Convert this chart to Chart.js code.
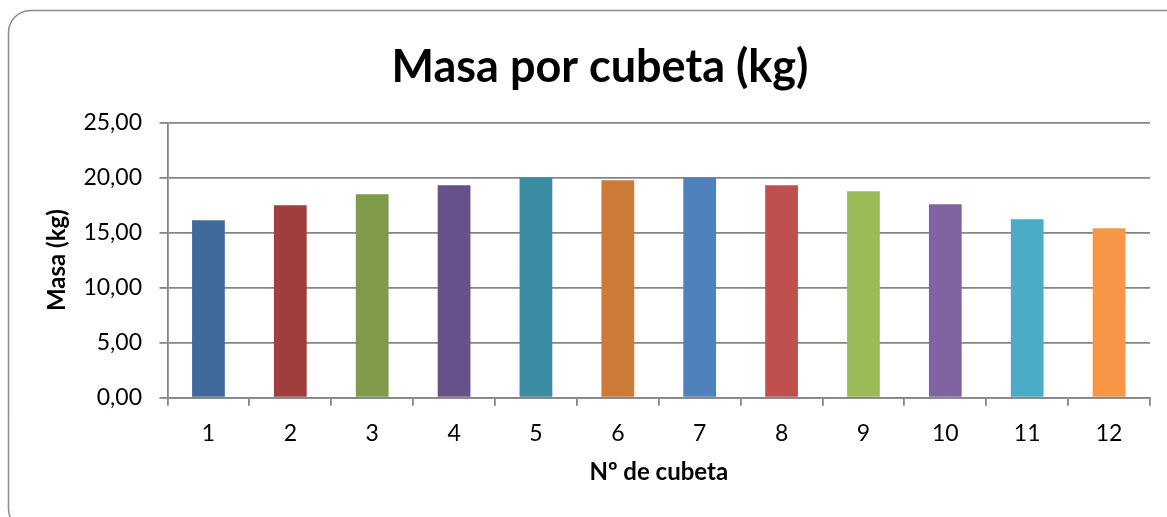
<!DOCTYPE html>
<html>
<head>
<meta charset="utf-8">
<script src="https://cdn.jsdelivr.net/npm/chart.js@4/dist/chart.umd.min.js"></script>
<style>
html,body{margin:0;padding:0;background:#fff;}
canvas{display:block;}
</style>
</head>
<body>
<canvas id="c" width="1167" height="517"></canvas>
<script>
const categories = ['1','2','3','4','5','6','7','8','9','10','11','12'];
const masses = [16.12, 17.49, 18.48, 19.30, 20.04, 19.75, 19.98, 19.30, 18.76, 17.58, 16.22, 15.40];
const barColors = ['#3F6A9C','#9E3F3E','#7F9A48','#68508A','#3C8CA4','#CC7A37','#4F81BD','#C0504D','#9BBB59','#8064A2','#4BACC6','#F79646'];
const chartTitle = 'Masa por cubeta (kg)';
const xTitle = 'Nº de cubeta';
const yTitle = 'Masa (kg)';
const yMin = 0, yMax = 25, yStep = 5;

const gridGray = '#868686';
const fontFamily = 'Lato, "Liberation Sans", sans-serif';

const framePlugin = {
  id: 'frame',
  beforeDraw(chart) {
    const ctx = chart.ctx;
    ctx.save();
    ctx.fillStyle = '#ffffff';
    ctx.fillRect(0, 0, chart.width, chart.height);
    const x = 8.5, y = 10.5, w = 1190, h = 520, r = 22;
    ctx.beginPath();
    ctx.moveTo(x + r, y);
    ctx.lineTo(x + w - r, y);
    ctx.arcTo(x + w, y, x + w, y + r, r);
    ctx.lineTo(x + w, y + h - r);
    ctx.arcTo(x + w, y + h, x + w - r, y + h, r);
    ctx.lineTo(x + r, y + h);
    ctx.arcTo(x, y + h, x, y + h - r, r);
    ctx.lineTo(x, y + r);
    ctx.arcTo(x, y, x + r, y, r);
    ctx.closePath();
    ctx.strokeStyle = '#8c8c8c';
    ctx.lineWidth = 1.5;
    ctx.stroke();
    ctx.restore();
  }
};

new Chart(document.getElementById('c'), {
  type: 'bar',
  data: {
    labels: categories,
    datasets: [{
      data: masses,
      backgroundColor: barColors,
      borderWidth: 0,
      barPercentage: 0.4,
      categoryPercentage: 1.0
    }]
  },
  options: {
    responsive: false,
    animation: false,
    devicePixelRatio: 1,
    layout: { padding: { left: 33, right: 0, top: 0, bottom: 0 } },
    plugins: {
      legend: { display: false },
      tooltip: { enabled: false },
      title: {
        display: true,
        text: chartTitle,
        color: '#000',
        font: { family: fontFamily, size: 45, weight: 'bold', lineHeight: 1.2 },
        padding: { top: 40, bottom: 28.6 }
      }
    },
    scales: {
      x: {
        offset: true,
        grid: {
          display: true,
          drawOnChartArea: false,
          drawTicks: true,
          tickLength: 8,
          offset: true,
          color: gridGray,
          lineWidth: 1.8
        },
        border: { display: true, color: gridGray, width: 1.8 },
        ticks: {
          color: '#000',
          padding: 14,
          font: { family: fontFamily, size: 23 }
        },
        title: {
          display: true,
          text: xTitle,
          color: '#000',
          font: { family: fontFamily, size: 24, weight: 'bold', lineHeight: 1.2 },
          padding: { top: 0, bottom: 30 }
        },
        afterFit(scale) { scale.height = 119.3; }
      },
      y: {
        min: yMin,
        max: yMax,
        grid: {
          display: true,
          drawOnChartArea: true,
          drawTicks: true,
          tickLength: 8,
          color: gridGray,
          lineWidth: 1.8
        },
        border: { display: true, color: gridGray, width: 1.8 },
        ticks: {
          stepSize: yStep,
          color: '#000',
          padding: 17.5,
          font: { family: fontFamily, size: 23 },
          callback: (v) => Number(v).toFixed(2).replace('.', ',')
        },
        title: {
          display: true,
          text: yTitle,
          color: '#000',
          font: { family: fontFamily, size: 24, weight: 'bold', lineHeight: 1.2 },
          padding: { top: 10, bottom: 0 }
        },
        afterFit(scale) { scale.width = 134.5; }
      },
      y2: {
        position: 'right',
        display: true,
        min: yMin,
        max: yMax,
        grid: { display: false, drawTicks: false },
        border: { display: false },
        ticks: { display: false },
        afterFit(scale) { scale.width = 17; }
      }
    }
  },
  plugins: [framePlugin]
});
</script>
</body>
</html>
